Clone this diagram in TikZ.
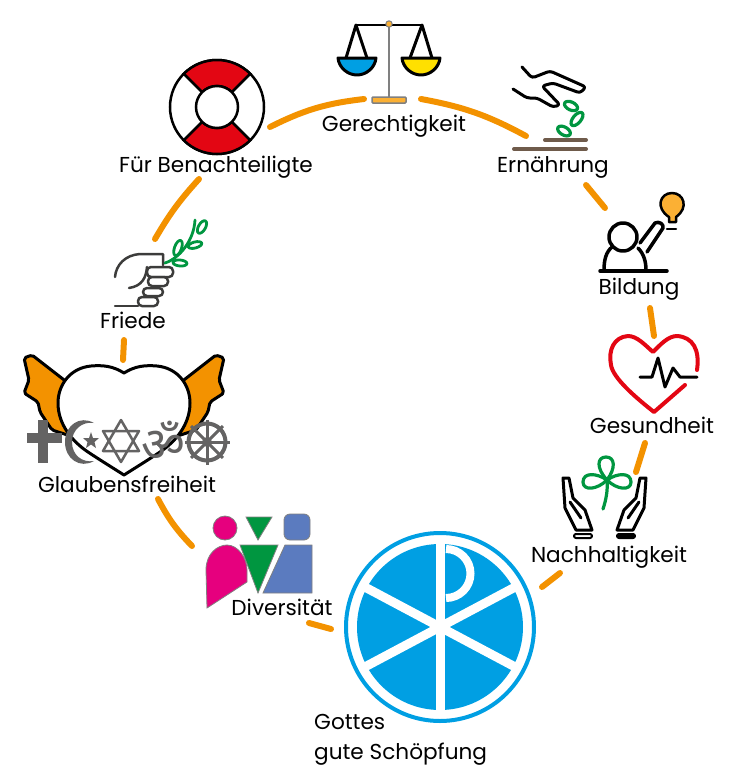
\documentclass[tikz,border=0pt]{standalone}
\usepackage{xcolor}
\usepackage{fontspec}
\setmainfont{Poppins}
\newfontfamily\omfont[Script=Devanagari]{Noto Sans}
\definecolor{bogenorange}{HTML}{F39200}
\definecolor{hellorange}{HTML}{FBB034}
\definecolor{chrisblau}{HTML}{009FE3}
\definecolor{gelb}{HTML}{FFE000}
\definecolor{rot}{HTML}{E30613}
\definecolor{gruen}{HTML}{009640}
\definecolor{pink}{HTML}{E6007E}
\definecolor{taube}{HTML}{5B7BBF}
\definecolor{erde}{HTML}{6F5B4B}
\definecolor{religion}{HTML}{646363}
\definecolor{handgrau}{HTML}{3C3C3B}
\tikzset{
    titel/.style={inner sep=0pt, font=\fontsize{21.6}{30}\selectfont},
    bogen/.style={draw=bogenorange, line width=6pt, line cap=round},
    schwarz/.style={draw=black, line width=3pt, line cap=round, line join=round},
    blatt/.style={draw=gruen, line width=3.2pt, line cap=round, line join=round},
    symbol/.style={draw=religion, line width=2.5pt},
    figur/.style={draw=gray, line width=0.8pt},
    griff/.style={draw=handgrau, line width=2.5pt, line cap=round, line join=round},
}
\begin{document}
\begin{tikzpicture}[x=1pt, y=1pt, yscale=-1]
    \useasboundingbox (0,0) rectangle (730,780);

    % Beschriftungen
    \node[titel] (Ger) at (394,126) {Gerechtigkeit};
    \node[titel] (Ben) at (216,167) {Für Benachteiligte};
    \node[titel] (Ern) at (553,167) {Ernährung};
    \node[titel] (Bil) at (639,289) {Bildung};
    \node[titel] (Ges) at (652,425) {Gesundheit};
    \node[titel] (Nach) at (609,557) {Nachhaltigkeit};
    \node[titel] (Fri) at (133,320) {Friede};
    \node[titel] (Glau) at (127,484) {Glaubensfreiheit};
    \node[titel] (Div) at (282,607) {Diversität};
    \node[titel, align=left, anchor=north west] (Gott) at (314,714) {Gottes\\gute Schöpfung};

    % Enden der Bogenstücke
    \coordinate (B1) at (270,127);
    \coordinate (B2) at (364,99);
    \coordinate (C1) at (421,99);
    \coordinate (C2) at (526,136);
    \coordinate (D1) at (586,185);
    \coordinate (D2) at (605,208);
    \coordinate (E1) at (650,308);
    \coordinate (E2) at (654,336);
    \coordinate (F1) at (645,443);
    \coordinate (F2) at (636,472);
    \coordinate (G1) at (560,573);
    \coordinate (G2) at (542,587);
    \coordinate (H1) at (331,629);
    \coordinate (H2) at (309,623);
    \coordinate (I1) at (192,546);
    \coordinate (I2) at (158,499);
    \coordinate (J1) at (123,360);
    \coordinate (J2) at (124,340);
    \coordinate (K1) at (155,239);
    \coordinate (K2) at (199,179);

    % Bogenstücke
    \draw[bogen] (B1) to[bend right=10] (B2);
    \draw[bogen] (C1) to[bend right=9] (C2);
    \draw[bogen] (D1) -- (D2);
    \draw[bogen] (E1) -- (E2);
    \draw[bogen] (F1) -- (F2);
    \draw[bogen] (G1) -- (G2);
    \draw[bogen] (H1) -- (H2);
    \draw[bogen] (I1) to[bend right=8] (I2);
    \draw[bogen] (J1) -- (J2);
    \draw[bogen] (K1) to[bend right=6] (K2);

    % Rettungsring
    \begin{scope}[shift={(217,107)}]
        \draw[fill=white, line width=2.5pt] (0,0) circle (47);
        \draw[fill=rot, line width=2.5pt] (-45:47) arc (-45:-135:47) -- (-135:21) arc (-135:-45:21) -- cycle;
        \draw[fill=rot, line width=2.5pt] (45:47) arc (45:135:47) -- (135:21) arc (135:45:21) -- cycle;
        \draw[fill=white, line width=2.5pt] (0,0) circle (21);
    \end{scope}

    % Waage
    \draw[draw=gray, line width=1.5pt] (389,24) -- (389,97);
    \draw[line width=1.8pt] (355,25) -- (423,25);
    \draw[fill=hellorange, draw=gray, line width=1pt] (389,24) circle (3.2);
    \draw[fill=hellorange, draw=gray, line width=1.5pt, rounded corners=1pt] (372,97) rectangle (406,103);
    \draw[schwarz] (346,58) -- (356,25) -- (367,58);
    \draw[schwarz] (410,58) -- (422,25) -- (432,58);
    \draw[schwarz, fill=chrisblau] (338,58) -- (376,58) .. controls (375,68) and (366,75) .. (357,75) .. controls (348,75) and (339,68) .. (338,58) -- cycle;
    \draw[schwarz, fill=gelb] (402,58) -- (440,58) .. controls (439,68) and (430,75) .. (421,75) .. controls (412,75) and (403,68) .. (402,58) -- cycle;

    % Hand mit Saat
    \draw[schwarz, rounded corners=3pt] (522,67) -- (532,78) -- (550,71) -- (586,87) -- (580,93) -- (553,83) -- (542,86) -- (560,105) -- (553,107) -- (537,98) -- (527,98) -- (513,89);
    \draw[blatt] (571,106) ellipse[x radius=7, y radius=4, rotate=25];
    \draw[blatt] (577,119) ellipse[x radius=8, y radius=4, rotate=-50];
    \draw[blatt] (564,131) ellipse[x radius=7, y radius=4, rotate=30];
    \draw[draw=erde, line width=4pt, line cap=round] (545,140) -- (586,140);
    \draw[draw=erde, line width=4pt, line cap=round] (514,149) -- (586,149);

    % Bildung
    \draw[schwarz, line width=3.5pt] (623,237) circle (14);
    \draw[schwarz, line width=3.5pt] (604,270) .. controls (604,260) and (606,252) .. (612,247);
    \draw[schwarz, line width=3.5pt] (646,270) .. controls (646,262) and (644,254) .. (638,248);
    \draw[schwarz, line width=3.5pt] (640,243) -- (655,223) .. controls (659,221) and (664,224) .. (663,228) -- (647,252);
    \draw[schwarz, line width=3.5pt] (600,271) -- (667,271);
    \draw[schwarz, fill=hellorange, line width=2.5pt] (669,222) -- (669,217) .. controls (655,208) and (660,193) .. (672,193) .. controls (684,193) and (689,208) .. (676,217) -- (676,222) -- cycle;
    \draw[schwarz, line width=2.5pt] (667,229) -- (676,229);

    % Herz
    \draw[draw=rot, line width=4pt, line cap=round, line join=round] (697,370) .. controls (700,350) and (693,337) .. (677,336) .. controls (668,336) and (660,345) .. (653,352) .. controls (645,345) and (637,336) .. (628,336) .. controls (614,337) and (608,350) .. (611,365) .. controls (613,378) and (635,397) .. (654,412) -- (685,385);
    \draw[schwarz] (640,377) -- (652,377) -- (658,358) -- (665,387) -- (673,368) -- (680,377) -- (697,377);

    % Nachhaltigkeit
    \draw[blatt] (603,509) .. controls (606,500) and (608,490) .. (607,480);
    \draw[blatt] (607,480) .. controls (596,468) and (597,457) .. (606,457) .. controls (615,457) and (616,468) .. (607,480);
    \draw[blatt] (607,480) .. controls (597,473) and (583,472) .. (583,482) .. controls (583,491) and (597,490) .. (607,480);
    \draw[blatt] (607,480) .. controls (617,473) and (631,472) .. (631,482) .. controls (631,491) and (617,490) .. (607,480);
    \draw[schwarz] (563,478) -- (565,508) -- (576,530) -- (592,530) -- (585,510) -- (573,498) -- (569,478) -- cycle;
    \draw[schwarz] (570,502) -- (581,518);
    \draw[schwarz] (646,478) -- (644,508) -- (633,530) -- (617,530) -- (624,510) -- (636,498) -- (640,478) -- cycle;
    \draw[schwarz] (639,502) -- (628,518);
    \draw[schwarz, line width=2pt, rounded corners=2pt] (574,534) rectangle (592,538);
    \draw[schwarz, line width=2pt, rounded corners=2pt, fill=black] (617,534) rectangle (635,538);

    % Hand mit Zweig
    \draw[griff, fill=white, rounded corners=4pt] (147,267) rectangle (173,277);
    \draw[griff, fill=white, rounded corners=4pt] (148,277) rectangle (168,286);
    \draw[griff, fill=white, rounded corners=4pt] (143,288) rectangle (163,296);
    \draw[griff, fill=white, rounded corners=4pt] (138,297) rectangle (158,306);
    \draw[griff] (115,277) .. controls (116,265) and (125,255) .. (140,254) -- (163,254) -- (163,265);
    \draw[griff] (147,267) .. controls (146,278) and (142,286) .. (129,288);
    \draw[griff] (115,306) -- (138,306);
    \draw[blatt, line width=2.8pt] (165,263) .. controls (180,258) and (194,240) .. (195,220);
    \draw[blatt, line width=2.8pt] (180,263) ellipse[x radius=7, y radius=3, rotate=5];
    \draw[blatt, line width=2.8pt] (178,248) ellipse[x radius=8, y radius=3.5, rotate=-70];
    \draw[blatt, line width=2.8pt] (195,245) ellipse[x radius=7, y radius=3, rotate=-15];
    \draw[blatt, line width=2.8pt] (202,227) ellipse[x radius=7, y radius=3.5, rotate=-60];

    % Flügel und Herz
    \draw[schwarz, fill=bogenorange, rounded corners=2pt] (180,383) -- (216,355) -- (224,358) -- (219,380) -- (224,393) -- (210,402) -- (208,412) -- (196,430) -- (165,440) -- cycle;
    \draw[schwarz, fill=bogenorange, rounded corners=2pt] (68,383) -- (32,355) -- (24,358) -- (29,380) -- (24,393) -- (38,402) -- (40,412) -- (52,430) -- (83,440) -- cycle;
    \draw[schwarz, fill=white] (124,373) .. controls (135,366) and (145,365) .. (157,366) .. controls (178,368) and (190,385) .. (190,403) .. controls (190,425) and (175,442) .. (160,452) .. controls (148,460) and (135,468) .. (124,475) .. controls (113,468) and (100,460) .. (88,452) .. controls (73,442) and (58,425) .. (58,403) .. controls (58,385) and (70,368) .. (91,366) .. controls (103,365) and (113,366) .. (124,373) -- cycle;

    % Religionen
    \fill[religion] (38,420) rectangle (48,463);
    \fill[religion] (27,433) rectangle (62,443);
    \fill[religion] (94,423) .. controls (80,415) and (65,425) .. (65,442) .. controls (65,459) and (80,469) .. (94,461) .. controls (82,463) and (72,455) .. (72,442) .. controls (72,430) and (82,421) .. (94,423) -- cycle;
    \fill[religion] (91,432) -- (93,438) -- (99,438) -- (94.5,442) -- (96,448) -- (91,444.5) -- (86,448) -- (87.5,442) -- (83,438) -- (89,438) -- cycle;
    \draw[symbol, line join=round] (121,420) -- (139,451) -- (103,451) -- cycle;
    \draw[symbol, line join=round] (121,462) -- (139,431) -- (103,431) -- cycle;
    \node[inner sep=0pt, text=religion, font=\omfont\fontsize{48}{48}\selectfont] (Om) at (163,441) {ॐ};
    \draw[religion, line width=4pt] (207,442) circle (18.5);
    \foreach \w in {0,45,...,315}
        \draw[religion, line width=3pt] (207,442) -- +(\w:22.5);
    \fill[religion] (207,442) circle (5);

    % Diversität
    \draw[figur, fill=pink] (225,528) circle (12);
    \draw[figur, fill=gruen] (246,517) -- (272,517) -- (258,540) -- cycle;
    \draw[figur, fill=taube, rounded corners=6pt] (284,514) rectangle (310,540);
    \draw[figur, fill=pink] (207,608) -- (206,570) .. controls (206,553) and (218,545) .. (227,545) .. controls (238,545) and (247,558) .. (247,570) -- (247,582) -- cycle;
    \draw[figur, fill=gruen] (240,545) -- (278,545) -- (258,593) -- cycle;
    \draw[figur, fill=taube] (285,545) -- (312,545) -- (312,593) -- (263,593) -- cycle;

    % Christusmonogramm
    \draw[draw=chrisblau, line width=4pt] (440,627) circle (94);
    \fill[chrisblau] (440,627) circle (83);
    \begin{scope}[shift={(440,627)}]
        \foreach \w in {28,90,152}
            \draw[white, line width=9pt] (\w:90) -- (\w+180:90);
    \end{scope}
    \draw[white, line width=8pt] (446,549) arc (-90:90:24.5);
\end{tikzpicture}
\end{document}
